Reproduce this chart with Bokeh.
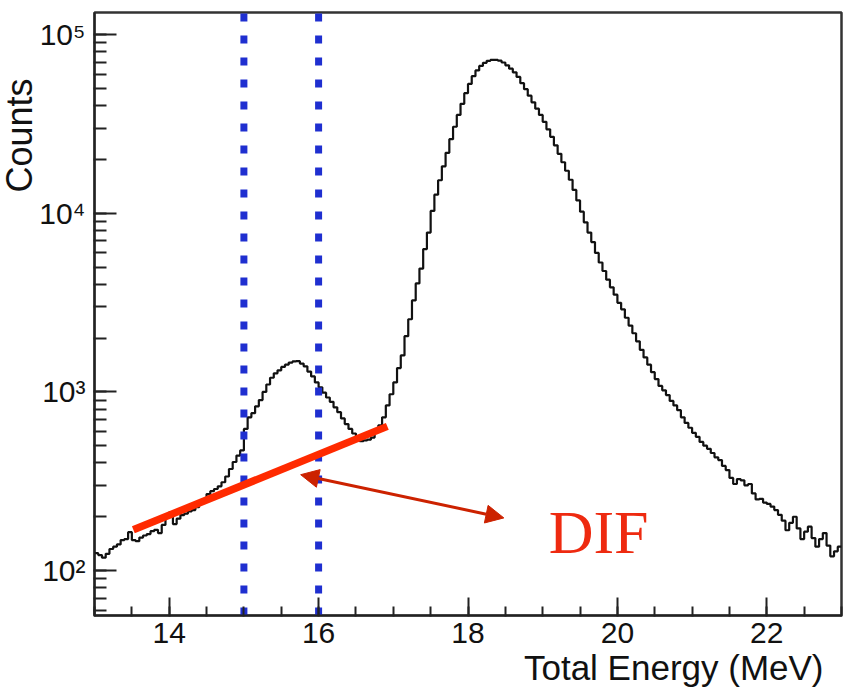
import numpy as np
from bokeh.plotting import figure
from bokeh.models import (Range1d, Title, Arrow, NormalHead, LogTicker,
                          SingleIntervalTicker, Label)
from bokeh.core.properties import value
from bokeh.embed import file_html
from bokeh.resources import INLINE

# ---- data -------------------------------------------------------------
energy_min, energy_max, bin_width = 13.0, 23.0, 0.05
counts = [
    # 13.0 - 14.0
    125, 122, 118, 124, 132, 136, 140, 148, 150, 164,
    148, 146, 153, 157, 160, 166, 169, 162, 180, 200,
    # 14.0 - 15.0
    212, 182, 195, 204, 208, 214, 218, 226, 240, 250,
    268, 278, 286, 296, 312, 336, 370, 405, 440, 470,
    # 15.0 - 16.0
    620, 720, 760, 830, 900, 1000, 1100, 1200, 1270, 1320,
    1380, 1420, 1460, 1480, 1485, 1440, 1390, 1300, 1220, 1130,
    # 16.0 - 17.0
    1060, 990, 930, 880, 820, 770, 710, 660, 620, 585,
    550, 530, 535, 540, 555, 600, 650, 720, 840, 970,
    # 17.0 - 18.0
    1130, 1360, 1600, 2050, 2550, 3250, 4050, 4900, 6300, 7800,
    10300, 12700, 15300, 18300, 21800, 26000, 30500, 35500, 41000, 47000,
    # 18.0 - 19.0
    53000, 58500, 63000, 66800, 69500, 71300, 72200, 72300, 71500, 69800,
    67300, 64500, 61500, 58000, 53500, 49500, 45500, 41800, 38500, 35500,
    # 19.0 - 20.0
    32500, 29500, 26800, 24000, 21500, 19300, 17300, 15400, 13500, 11800,
    10200, 8900, 7800, 6900, 6000, 5300, 4750, 4250, 3850, 3500,
    # 20.0 - 21.0
    3150, 2900, 2600, 2350, 2130, 1920, 1720, 1560, 1420, 1290,
    1180, 1080, 1020, 960, 890, 840, 790, 720, 670, 630,
    # 21.0 - 22.0
    590, 560, 525, 500, 480, 455, 430, 415, 385, 365,
    330, 305, 325, 320, 300, 305, 270, 250, 252, 240,
    # 22.0 - 23.0
    236, 228, 218, 205, 190, 168, 185, 200, 172, 150,
    165, 176, 152, 136, 150, 162, 138, 120, 128, 136,
]
cut_lines = [15.0, 16.0]
dif_line_x = [13.52, 16.92]
dif_line_y = [169, 641]
arrow_x = [15.76, 18.48]
arrow_y = [344, 197]
dif_label_x, dif_label_y = [19.08], [165]
y_ticks = [100, 1000, 10000, 100000]
y_tick_labels = ["10²", "10³", "10⁴", "10⁵"]
y_min, y_max = 56, 133000

edges = list(np.round(energy_min + bin_width * np.arange(len(counts) + 1), 3))
step_y = counts + [counts[-1]]

# ---- figure -----------------------------------------------------------
p = figure(width=861, height=697, title=None,
           x_range=Range1d(energy_min, energy_max),
           y_range=Range1d(y_min, y_max), y_axis_type="log",
           output_backend="svg", toolbar_location=None,
           min_border_left=94, min_border_right=20,
           min_border_top=12, min_border_bottom=82)
p.background_fill_color = "white"
p.border_fill_color = "white"
p.outline_line_color = "#333333"
p.outline_line_width = 2.5
p.xgrid.visible = False
p.ygrid.visible = False

p.xaxis.ticker = SingleIntervalTicker(interval=2, num_minor_ticks=4)
p.yaxis.ticker = LogTicker(num_minor_ticks=10)

font = "Liberation Sans"
for ax in (p.xaxis[0], p.yaxis[0]):
    ax.axis_line_color = "#222222"
    ax.axis_line_width = 2
    ax.major_tick_line_color = "#222222"
    ax.minor_tick_line_color = "#222222"
    ax.major_tick_line_width = 2
    ax.minor_tick_line_width = 2
    ax.major_tick_out = 0
    ax.minor_tick_out = 1
    ax.major_label_text_font = font
    ax.major_label_text_font_size = "30px"
    ax.major_label_text_color = "#111111"

p.xaxis.major_tick_in = 18
p.xaxis.minor_tick_in = 9
p.xaxis.major_label_standoff = 6

p.yaxis.major_tick_in = 22
p.yaxis.minor_tick_in = 12
p.yaxis.major_label_standoff = 8
p.yaxis.major_label_overrides = {float(t): s for t, s in zip(y_ticks, y_tick_labels)}

xt = Title(text="Total Energy (MeV)", align="right", offset=18, standoff=0,
           text_font=font, text_font_size="35px", text_font_style="normal",
           text_color="#111111")
p.add_layout(xt, "below")
yt = Title(text="Counts", align="right", offset=66, standoff=-7,
           text_font=font, text_font_size="36px", text_font_style="normal",
           text_color="#111111")
p.add_layout(yt, "left")

# histogram
p.step(x=edges, y=step_y, mode="after", line_color="#111111", line_width=2.2)

# cut lines
p.segment(x0=cut_lines, x1=cut_lines, y0=[y_min] * len(cut_lines), y1=[y_max] * len(cut_lines),
          line_color="#1f2fd0", line_width=7, line_dash="8 14")

# DIF background line
p.line(x=dif_line_x, y=dif_line_y, line_color="#ff2a00", line_width=7.5)

# arrow
ac = "#cc2200"
p.add_layout(Arrow(start=NormalHead(size=18, fill_color=ac, line_color=ac),
                   end=NormalHead(size=18, fill_color=ac, line_color=ac),
                   x_start=arrow_x[0], y_start=arrow_y[0],
                   x_end=arrow_x[1], y_end=arrow_y[1],
                   line_color=ac, line_width=3))

p.text(x=dif_label_x, y=dif_label_y, text=["DIF"],
       text_font=value("Liberation Serif"), text_font_size="62px",
       text_color="#ee2a10", text_baseline="alphabetic")

# small blue slide marker below the axis (outside the frame)
p.add_layout(Label(x=-35, y=-76, x_units="screen", y_units="screen", text=" ",
                   text_font_size="16px", text_align="left", text_baseline="bottom",
                   padding=6, background_fill_color="#0044aa",
                   background_fill_alpha=1.0))

open("out.html", "w").write(file_html(p, INLINE))
